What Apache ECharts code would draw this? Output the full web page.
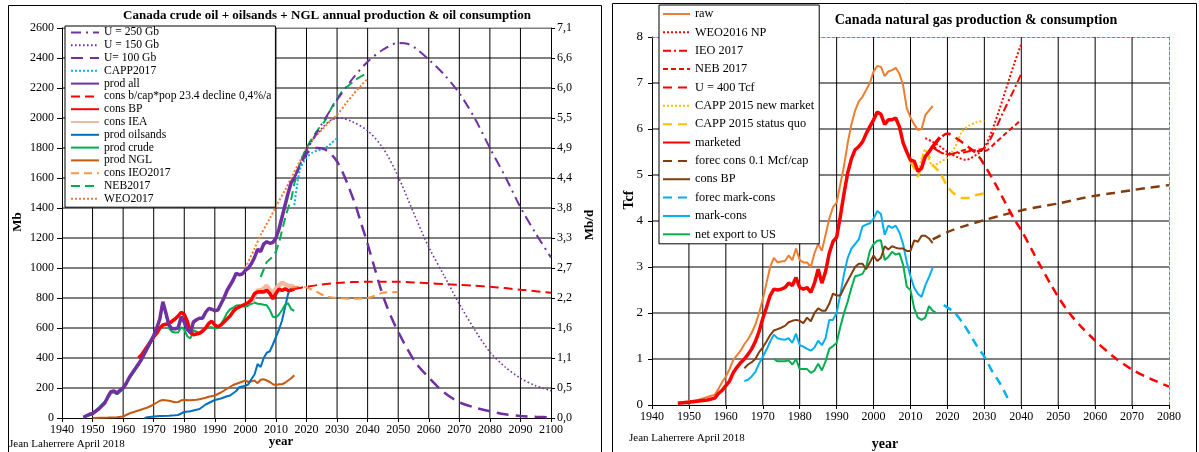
<!DOCTYPE html>
<html><head><meta charset="utf-8">
<script src="https://cdn.jsdelivr.net/npm/echarts@6/dist/echarts.min.js"></script>
<style>html,body{margin:0;padding:0;background:#fff}#c{width:1199px;height:452px}</style>
</head><body><div id="c"></div>
<script>
const FONT = '"Liberation Serif","Times New Roman",serif';

// ---------- LEFT CHART (oil, Mb) ----------
const mbdLabels = ['0,0','0,5','1,1','1,6','2,2','2,7','3,3','3,8','4,4','4,9','5,5','6,0','6,6','7,1'];

const u250 = [[2016,1600],[2020,1780],[2025,1960],[2030,2120],[2035,2260],[2040,2375],[2045,2455],[2050,2500],[2053,2495],[2056,2460],[2060,2390],[2065,2290],[2070,2165],[2075,2000],[2080,1800],[2085,1610],[2090,1405],[2095,1230],[2100,1070]];
const u150 = [[2016,1600],[2020,1790],[2025,1930],[2028,1985],[2031,2000],[2035,1975],[2040,1915],[2045,1800],[2050,1610],[2055,1370],[2060,1140],[2065,950],[2070,760],[2075,590],[2080,440],[2085,340],[2090,265],[2095,215],[2100,182]];
const u100 = [[2016,1600],[2018,1690],[2020,1760],[2022,1795],[2024,1800],[2026,1790],[2028,1760],[2030,1710],[2032,1630],[2034,1530],[2036,1420],[2038,1290],[2040,1160],[2042,1020],[2044,880],[2046,760],[2048,660],[2050,575],[2053,460],[2056,360],[2060,270],[2065,170],[2070,105],[2075,70],[2080,45],[2085,25],[2090,14],[2095,8],[2100,5]];
const capp2017 = [[2016,1420],[2017,1560],[2018,1665],[2020,1735],[2022,1770],[2024,1785],[2026,1798],[2028,1830],[2030,1866]];
const prodAll = [[1947,5],[1948,15],[1949,25],[1950,30],[1951,45],[1952,60],[1953,80],[1954,100],[1955,140],[1956,175],[1957,180],[1958,165],[1959,185],[1960,200],[1961,230],[1962,270],[1963,300],[1964,330],[1965,360],[1966,390],[1967,430],[1968,470],[1969,510],[1970,550],[1971,600],[1972,660],[1973,775],[1974,700],[1975,620],[1976,595],[1977,595],[1978,600],[1979,675],[1980,640],[1981,590],[1982,570],[1983,640],[1984,655],[1985,665],[1986,665],[1987,705],[1988,730],[1989,725],[1990,715],[1991,720],[1992,760],[1993,800],[1994,850],[1995,885],[1996,920],[1997,965],[1998,955],[1999,960],[2000,985],[2001,1000],[2002,1030],[2003,1070],[2004,1125],[2005,1110],[2006,1160],[2007,1175],[2008,1165],[2009,1170],[2010,1200],[2011,1260],[2012,1340],[2013,1420],[2014,1500],[2015,1570],[2016,1600]];
const consPop = [[2016,860],[2020,875],[2025,890],[2030,900],[2035,906],[2040,908],[2045,909],[2050,908],[2055,904],[2060,898],[2065,893],[2070,888],[2075,882],[2080,875],[2085,866],[2090,855],[2095,845],[2100,835]];
const consBPOil = [[1965,400],[1966,420],[1967,450],[1968,480],[1969,510],[1970,540],[1971,565],[1972,600],[1973,620],[1974,625],[1975,630],[1976,645],[1977,660],[1978,680],[1979,705],[1980,690],[1981,645],[1982,570],[1983,555],[1984,560],[1985,565],[1986,580],[1987,600],[1988,630],[1989,645],[1990,620],[1991,608],[1992,620],[1993,640],[1994,660],[1995,680],[1996,710],[1997,730],[1998,740],[1999,750],[2000,760],[2001,770],[2002,790],[2003,830],[2004,840],[2005,842],[2006,840],[2007,852],[2008,830],[2009,795],[2010,830],[2011,860],[2012,850],[2013,862],[2014,850],[2015,852],[2016,860]];
const consIEA = [[2002,770],[2003,820],[2004,850],[2005,852],[2006,862],[2007,882],[2008,852],[2009,832],[2010,862],[2011,882],[2012,902],[2013,892],[2014,882],[2015,880],[2016,872]];
const prodOilsands = [[1967,0],[1968,5],[1970,10],[1972,14],[1975,15],[1977,18],[1978,20],[1980,40],[1982,45],[1984,55],[1985,60],[1987,90],[1988,100],[1990,120],[1992,130],[1994,145],[1995,150],[1997,180],[1998,205],[1999,210],[2000,215],[2001,225],[2002,260],[2003,290],[2004,360],[2005,340],[2006,400],[2007,435],[2008,445],[2009,490],[2010,540],[2011,590],[2012,650],[2013,740],[2014,830],[2015,870],[2016,880]];
const prodCrude = [[1947,3],[1950,25],[1955,132],[1956,168],[1957,172],[1958,158],[1960,192],[1962,262],[1965,350],[1968,460],[1970,540],[1972,650],[1973,760],[1974,690],[1975,600],[1976,575],[1977,570],[1978,570],[1979,605],[1980,590],[1981,545],[1982,530],[1983,585],[1984,575],[1985,565],[1986,575],[1987,595],[1988,605],[1989,605],[1990,595],[1991,600],[1992,625],[1993,660],[1994,700],[1995,725],[1996,735],[1997,750],[1998,752],[1999,745],[2000,742],[2001,750],[2002,762],[2003,770],[2004,762],[2005,760],[2006,755],[2007,752],[2008,720],[2009,675],[2010,670],[2011,690],[2012,720],[2013,755],[2014,765],[2015,725],[2016,715]];
const prodNGL = [[1950,0],[1955,3],[1958,5],[1960,10],[1962,30],[1965,50],[1968,70],[1970,90],[1972,115],[1973,120],[1975,115],[1977,105],[1978,106],[1979,118],[1980,120],[1982,118],[1984,122],[1985,125],[1987,135],[1988,142],[1990,150],[1992,170],[1994,195],[1996,220],[1998,235],[2000,250],[2001,240],[2002,245],[2003,250],[2004,232],[2005,255],[2006,258],[2007,250],[2008,240],[2009,225],[2010,220],[2011,225],[2012,225],[2013,235],[2014,250],[2015,265],[2016,285]];
const consIEO = [[2015,870],[2018,875],[2020,870],[2023,845],[2026,815],[2030,800],[2035,795],[2040,800],[2043,820],[2045,835],[2050,840]];
const neb2017 = [[2005,940],[2006,990],[2007,1040],[2008,1058],[2009,1078],[2010,1110],[2011,1170],[2012,1250],[2013,1330],[2014,1400],[2015,1460],[2016,1560],[2017,1630],[2018,1700],[2020,1800],[2022,1870],[2024,1930],[2026,1980],[2028,2060],[2030,2130],[2032,2185],[2034,2220],[2036,2255],[2039,2290]];
const weo2017 = [[2000,1000],[2003,1130],[2005,1220],[2008,1330],[2010,1410],[2013,1520],[2015,1600],[2018,1720],[2020,1800],[2023,1880],[2025,1920],[2028,1985],[2030,2020],[2033,2100],[2035,2150],[2038,2220],[2040,2260]];

// ---------- RIGHT CHART (gas, Tcf) ----------
const raw = [[1947,0.05],[1948,0.06],[1950,0.08],[1952,0.1],[1954,0.15],[1956,0.2],[1957,0.22],[1958,0.35],[1959,0.5],[1960,0.62],[1961,0.78],[1962,0.98],[1963,1.08],[1964,1.18],[1965,1.32],[1966,1.43],[1967,1.57],[1968,1.75],[1969,2.0],[1970,2.3],[1971,2.65],[1972,3.0],[1973,3.2],[1974,3.1],[1975,3.12],[1976,3.13],[1977,3.25],[1978,3.15],[1979,3.4],[1980,3.15],[1981,3.1],[1982,3.1],[1983,3.0],[1984,3.3],[1985,3.5],[1986,3.35],[1987,3.7],[1988,4.05],[1989,4.3],[1990,4.4],[1991,4.8],[1992,5.2],[1993,5.7],[1994,6.1],[1995,6.4],[1996,6.6],[1997,6.7],[1998,6.85],[1999,7.0],[2000,7.25],[2001,7.37],[2002,7.35],[2003,7.15],[2004,7.25],[2005,7.28],[2006,7.33],[2007,7.2],[2008,6.95],[2009,6.45],[2010,6.25],[2011,6.1],[2012,5.98],[2013,6.0],[2014,6.3],[2015,6.4],[2016,6.5]];
const weo2016 = [[2014,5.8],[2016,5.72],[2018,5.62],[2020,5.5],[2023,5.38],[2025,5.33],[2028,5.45],[2030,5.6],[2032,5.95],[2035,6.65],[2038,7.4],[2040,7.85]];
const ieo2017 = [[2016,5.6],[2018,5.5],[2020,5.45],[2023,5.48],[2025,5.5],[2028,5.55],[2030,5.58],[2033,6.0],[2035,6.35],[2038,6.85],[2040,7.2]];
const nebGas = [[2016,5.65],[2018,5.5],[2020,5.45],[2023,5.5],[2025,5.55],[2028,5.52],[2030,5.52],[2033,5.7],[2036,5.92],[2040,6.2]];
const u400 = [[2016,5.6],[2018,5.8],[2020,5.9],[2022,5.82],[2025,5.65],[2028,5.45],[2030,5.22],[2033,4.8],[2035,4.5],[2038,4.05],[2040,3.8],[2043,3.35],[2045,3.05],[2048,2.62],[2050,2.35],[2053,2.0],[2056,1.72],[2060,1.4],[2065,1.05],[2070,0.77],[2075,0.57],[2080,0.40]];
const cappNew = [[2012,5.0],[2014,5.55],[2015,5.35],[2016,5.2],[2018,5.28],[2020,5.38],[2022,5.6],[2024,5.95],[2026,6.08],[2028,6.15],[2030,6.18]];
const cappQuo = [[2010,5.28],[2011,5.15],[2012,4.97],[2013,5.25],[2014,5.55],[2015,5.4],[2016,5.22],[2018,5.05],[2020,4.75],[2022,4.58],[2024,4.5],[2026,4.5],[2028,4.57],[2030,4.6]];
const marketed = [[1947,0.04],[1950,0.06],[1952,0.08],[1955,0.11],[1957,0.15],[1958,0.25],[1959,0.32],[1960,0.42],[1961,0.52],[1962,0.7],[1963,0.82],[1964,0.92],[1965,1.0],[1966,1.1],[1967,1.22],[1968,1.38],[1969,1.6],[1970,1.88],[1971,2.12],[1972,2.38],[1973,2.52],[1974,2.5],[1975,2.52],[1976,2.55],[1977,2.65],[1978,2.6],[1979,2.77],[1980,2.55],[1981,2.52],[1982,2.55],[1983,2.45],[1984,2.65],[1985,2.95],[1986,2.65],[1987,2.9],[1988,3.3],[1989,3.55],[1990,3.65],[1991,4.1],[1992,4.6],[1993,5.05],[1994,5.35],[1995,5.55],[1996,5.62],[1997,5.72],[1998,5.9],[1999,6.05],[2000,6.2],[2001,6.37],[2002,6.32],[2003,6.1],[2004,6.2],[2005,6.2],[2006,6.24],[2007,6.05],[2008,5.7],[2009,5.5],[2010,5.32],[2011,5.3],[2012,5.08],[2013,5.15],[2014,5.4],[2015,5.5],[2016,5.62],[2017,5.72],[2018,5.82]];
const forecCons = [[2016,3.6],[2020,3.76],[2025,3.9],[2030,4.02],[2035,4.13],[2040,4.23],[2045,4.31],[2050,4.38],[2055,4.47],[2060,4.55],[2065,4.61],[2070,4.67],[2075,4.73],[2080,4.78]];
const consBPGas = [[1965,0.8],[1966,0.88],[1967,0.93],[1968,1.0],[1969,1.15],[1970,1.25],[1971,1.38],[1972,1.52],[1973,1.62],[1974,1.65],[1975,1.68],[1976,1.72],[1977,1.8],[1978,1.83],[1979,1.85],[1980,1.83],[1981,1.78],[1982,1.9],[1983,1.82],[1984,2.0],[1985,2.1],[1986,2.05],[1987,2.05],[1988,2.2],[1989,2.42],[1990,2.38],[1991,2.38],[1992,2.55],[1993,2.7],[1994,2.85],[1995,3.0],[1996,3.07],[1997,3.07],[1998,2.95],[1999,3.1],[2000,3.25],[2001,3.13],[2002,3.2],[2003,3.45],[2004,3.38],[2005,3.45],[2006,3.42],[2007,3.4],[2008,3.4],[2009,3.35],[2010,3.35],[2011,3.58],[2012,3.55],[2013,3.68],[2014,3.68],[2015,3.62],[2016,3.52]];
const forecMarkCons = [[2019,2.17],[2020,2.12],[2022,2.0],[2024,1.8],[2026,1.55],[2028,1.28],[2030,1.05],[2032,0.75],[2034,0.5],[2036,0.2],[2037,0.02]];
const markCons = [[1965,0.52],[1966,0.55],[1967,0.62],[1968,0.72],[1969,0.9],[1970,1.05],[1971,1.2],[1972,1.38],[1973,1.53],[1974,1.45],[1975,1.43],[1976,1.42],[1977,1.45],[1978,1.35],[1979,1.55],[1980,1.3],[1981,1.27],[1982,1.22],[1983,1.18],[1984,1.25],[1985,1.4],[1986,1.3],[1987,1.45],[1988,1.85],[1989,1.85],[1990,2.0],[1991,2.4],[1992,2.85],[1993,3.2],[1994,3.4],[1995,3.5],[1996,3.6],[1997,3.88],[1998,3.92],[1999,3.95],[2000,4.05],[2001,4.22],[2002,4.15],[2003,3.7],[2004,3.9],[2005,3.85],[2006,3.9],[2007,3.75],[2008,3.5],[2009,3.1],[2010,2.8],[2011,2.55],[2012,2.42],[2013,2.35],[2014,2.6],[2015,2.78],[2016,2.98]];
const netExport = [[1973,1.0],[1974,0.95],[1975,0.95],[1976,0.95],[1977,0.97],[1978,0.88],[1979,1.0],[1980,0.78],[1981,0.78],[1982,0.78],[1983,0.7],[1984,0.75],[1985,0.9],[1986,0.75],[1987,0.95],[1988,1.22],[1989,1.28],[1990,1.35],[1991,1.7],[1992,2.0],[1993,2.25],[1994,2.55],[1995,2.8],[1996,2.82],[1997,2.85],[1998,3.0],[1999,3.35],[2000,3.5],[2001,3.57],[2002,3.58],[2003,3.15],[2004,3.22],[2005,3.33],[2006,3.27],[2007,3.3],[2008,3.05],[2009,2.57],[2010,2.5],[2011,2.1],[2012,1.9],[2013,1.85],[2014,1.9],[2015,2.15],[2016,2.05],[2017,2.0]];

const leftLegend = ['U = 250 Gb','U = 150 Gb','U= 100 Gb','CAPP2017','prod all','cons b/cap*pop 23.4 decline 0,4%/a','cons BP','cons IEA','prod oilsands','prod crude','prod NGL','cons IEO2017','NEB2017','WEO2017'];
const rightLegend = ['raw','WEO2016 NP','IEO 2017','NEB 2017','U = 400 Tcf','CAPP 2015 new market','CAPP 2015 status quo','marketed','forec cons 0.1 Mcf/cap','cons BP ','forec mark-cons','mark-cons','net export to US'];

// axis ranges
const leftX = { min: 1940, max: 2100, step: 10 };
const leftY = { min: 0, max: 2600, step: 200 };
const rightX = { min: 1940, max: 2080, step: 10 };
const rightY = { min: 0, max: 8, step: 1 };

function ticks(ax, withMax) {
  const out = [];
  for (let v = ax.min + ax.step; withMax ? v <= ax.max + 1e-9 : v < ax.max - 1e-9; v += ax.step) out.push(Math.round(v * 1000) / 1000);
  return out;
}

function ln(name, data, color, width, type, grid, smooth) {
  return {
    name, type: 'line', data, xAxisIndex: grid, yAxisIndex: grid === 0 ? 0 : 2,
    symbol: 'none', showSymbol: false, smooth: smooth ? 0.3 : false,
    lineStyle: { color, width, type: type || 'solid' }, itemStyle: { color },
    emphasis: { disabled: true }, silent: true, z: 3
  };
}

// gridlines drawn as plain line series through the axes
function gridLines(grid, xr, yr, xs, ys) {
  const out = [];
  const mk = (data) => ({
    type: 'line', xAxisIndex: grid, yAxisIndex: grid === 0 ? 0 : 2, data,
    symbol: 'none', showSymbol: false, silent: true, z: 1,
    lineStyle: { color: '#000', width: 1, type: 'solid' }, emphasis: { disabled: true }
  });
  xs.forEach(x => out.push(mk([[x, yr.min], [x, yr.max]])));
  ys.forEach(y => out.push(mk([[xr.min, y], [xr.max, y]])));
  return out;
}

const PURPLE = '#7030A0', RED = '#FF0000', GREEN = '#00B050', LBLUE = '#00B0F0', BROWN = '#843C0C', YEL = '#FFC000';

const series = [].concat(
  gridLines(0, leftX, leftY, ticks(leftX, false), ticks(leftY, true)),
  gridLines(1, rightX, rightY, ticks(rightX, false), ticks(rightY, false)),
  [
  // left
  ln('prod NGL', prodNGL, '#C55A11', 2, 'solid', 0),
  ln('prod oilsands', prodOilsands, '#0070C0', 2, 'solid', 0),
  ln('prod crude', prodCrude, GREEN, 2, 'solid', 0),
  ln('cons IEA', consIEA, '#F4B8A0', 4.5, 'solid', 0),
  ln('cons BP', consBPOil, RED, 3.5, 'solid', 0),
  ln('cons IEO2017', consIEO, '#F79646', 2, [8,5], 0, true),
  ln('cons b/cap*pop 23.4 decline 0,4%/a', consPop, RED, 2, [9,5], 0, true),
  ln('WEO2017', weo2017, '#ED7D31', 2, [2,2], 0, true),
  ln('NEB2017', neb2017, GREEN, 2, [9,5], 0, true),
  ln('CAPP2017', capp2017, LBLUE, 2, [2,2], 0, true),
  ln('U = 250 Gb', u250, PURPLE, 2, [10,5,2,5], 0, true),
  ln('U = 150 Gb', u150, PURPLE, 1.6, [1.6,2.4], 0, true),
  ln('U= 100 Gb', u100, PURPLE, 2.5, [12,7], 0, true),
  ln('prod all', prodAll, PURPLE, 3.5, 'solid', 0),
  // right
  ln('raw', raw, '#ED7D31', 2, 'solid', 1),
  ln('net export to US', netExport, GREEN, 2, 'solid', 1),
  ln('mark-cons', markCons, LBLUE, 2, 'solid', 1),
  ln('forec mark-cons', forecMarkCons, LBLUE, 2.5, [9,6], 1, true),
  ln('cons BP ', consBPGas, BROWN, 2, 'solid', 1),
  ln('forec cons 0.1 Mcf/cap', forecCons, BROWN, 2.5, [9,6], 1, true),
  ln('CAPP 2015 status quo', cappQuo, YEL, 2.5, [9,6], 1, true),
  ln('CAPP 2015 new market', cappNew, YEL, 2, [2,2], 1, true),
  ln('U = 400 Tcf', u400, RED, 2.5, [9,6], 1, true),
  ln('NEB 2017', nebGas, RED, 2, [5,3], 1, true),
  ln('IEO 2017', ieo2017, RED, 2, [8,3,2,3], 1, true),
  ln('WEO2016 NP', weo2016, RED, 2, [2,2], 1, true),
  ln('marketed', marketed, RED, 3.5, 'solid', 1)
  ]
);

const axisFont = { fontFamily: FONT, fontSize: 12, color: '#000' };

const option = {
  animation: false,
  grid: [
    { left: 62, top: 28, width: 489, height: 390 },
    { left: 652, top: 37, width: 517, height: 368 }
  ],
  xAxis: [
    { type: 'value', gridIndex: 0, min: leftX.min, max: leftX.max, interval: leftX.step,
      axisLine: { show: true, onZero: false, lineStyle: { color: '#000', width: 1 } },
      axisTick: { show: true, length: 4, lineStyle: { color: '#000' } },
      axisLabel: Object.assign({ margin: 6, formatter: v => String(v) }, axisFont),
      splitLine: { show: false } },
    { type: 'value', gridIndex: 1, min: rightX.min, max: rightX.max, interval: rightX.step,
      axisLine: { show: true, onZero: false, lineStyle: { color: '#000', width: 1 } },
      axisTick: { show: true, length: 4, lineStyle: { color: '#000' } },
      axisLabel: Object.assign({ margin: 6, formatter: v => String(v) }, axisFont),
      splitLine: { show: false } },
    { type: 'value', gridIndex: 1, position: 'top', min: rightX.min, max: rightX.max,
      axisLine: { show: true, onZero: false, lineStyle: { color: LBLUE, width: 1, type: [3,2] } },
      axisTick: { show: false }, axisLabel: { show: false }, splitLine: { show: false } }
  ],
  yAxis: [
    { type: 'value', gridIndex: 0, min: leftY.min, max: leftY.max, interval: leftY.step,
      axisLine: { show: true, lineStyle: { color: '#000', width: 1 } },
      axisTick: { show: true, length: 5, lineStyle: { color: '#000' } },
      axisLabel: Object.assign({ margin: 8, formatter: v => String(v) }, axisFont),
      splitLine: { show: false } },
    { type: 'value', gridIndex: 0, position: 'right', min: leftY.min, max: leftY.max, interval: leftY.step,
      axisLine: { show: true, lineStyle: { color: '#000', width: 1 } },
      axisTick: { show: true, length: 4, lineStyle: { color: '#000' } },
      axisLabel: Object.assign({ margin: 6, formatter: v => mbdLabels[Math.round(v / 200)] }, axisFont),
      splitLine: { show: false } },
    { type: 'value', gridIndex: 1, min: rightY.min, max: rightY.max, interval: rightY.step,
      axisLine: { show: true, lineStyle: { color: '#000', width: 1 } },
      axisTick: { show: true, length: 4, lineStyle: { color: '#000' } },
      axisLabel: Object.assign({ margin: 9, formatter: v => String(v) }, axisFont, { fontSize: 13 }),
      splitLine: { show: false } },
    { type: 'value', gridIndex: 1, position: 'right', min: rightY.min, max: rightY.max,
      axisLine: { show: true, lineStyle: { color: LBLUE, width: 1, type: [3,2] } },
      axisTick: { show: false }, axisLabel: { show: false }, splitLine: { show: false } }
  ],
  legend: [
    { data: leftLegend, orient: 'vertical', left: 65, top: 26, z: 20,
      padding: [0, 4, 2, 5], itemGap: 0, itemWidth: 28, itemHeight: 10,
      backgroundColor: '#fff', borderColor: '#000', borderWidth: 1, borderRadius: 0,
      selectedMode: false, itemStyle: { opacity: 0, borderWidth: 0 },
      textStyle: { fontFamily: FONT, fontSize: 11.6, color: '#000', lineHeight: 12.8 } },
    { data: rightLegend, orient: 'vertical', left: 659, top: 5, z: 20,
      padding: [2.5, 5, 3, 3], itemGap: 5.36, itemWidth: 27, itemHeight: 10,
      backgroundColor: '#fff', borderColor: '#000', borderWidth: 1, borderRadius: 0,
      selectedMode: false, itemStyle: { opacity: 0, borderWidth: 0 },
      textStyle: { fontFamily: FONT, fontSize: 12.3, color: '#000', lineHeight: 13 } }
  ],
  graphic: [
    { type: 'rect', silent: true, z: 50, shape: { x: 8.5, y: 5.5, width: 593, height: 460 }, style: { fill: 'transparent', stroke: '#000', lineWidth: 1 } },
    { type: 'rect', silent: true, z: 50, shape: { x: 612.5, y: 3.5, width: 584, height: 460 }, style: { fill: 'transparent', stroke: '#000', lineWidth: 1 } },
    { type: 'text', x: 327, y: 16, style: { text: 'Canada crude oil + oilsands + NGL annual production & oil consumption', font: 'bold 13px ' + FONT, fill: '#000', align: 'center', verticalAlign: 'middle' } },
    { type: 'text', x: 18, y: 222, rotation: Math.PI / 2, style: { text: 'Mb', font: 'bold 13px ' + FONT, fill: '#000', align: 'center', verticalAlign: 'middle' } },
    { type: 'text', x: 590, y: 225, rotation: Math.PI / 2, style: { text: 'Mb/d', font: 'bold 13px ' + FONT, fill: '#000', align: 'center', verticalAlign: 'middle' } },
    { type: 'text', x: 281, y: 442, style: { text: 'year', font: 'bold 13px ' + FONT, fill: '#000', align: 'center', verticalAlign: 'middle' } },
    { type: 'text', x: 9, y: 444, style: { text: 'Jean Laherrere April 2018', font: '11px ' + FONT, fill: '#000', align: 'left', verticalAlign: 'middle' } },
    { type: 'text', x: 976, y: 20, style: { text: 'Canada natural gas production & consumption', font: 'bold 14px ' + FONT, fill: '#000', align: 'center', verticalAlign: 'middle' } },
    { type: 'text', x: 629, y: 200, rotation: Math.PI / 2, style: { text: 'Tcf', font: 'bold 14px ' + FONT, fill: '#000', align: 'center', verticalAlign: 'middle' } },
    { type: 'text', x: 885, y: 444, style: { text: 'year', font: 'bold 14px ' + FONT, fill: '#000', align: 'center', verticalAlign: 'middle' } },
    { type: 'text', x: 629, y: 438, style: { text: 'Jean Laherrere April 2018', font: '11px ' + FONT, fill: '#000', align: 'left', verticalAlign: 'middle' } }
  ],
  series
};

const chart = echarts.init(document.getElementById('c'), null, { renderer: 'canvas' });
chart.setOption(option);
</script>
</body></html>
